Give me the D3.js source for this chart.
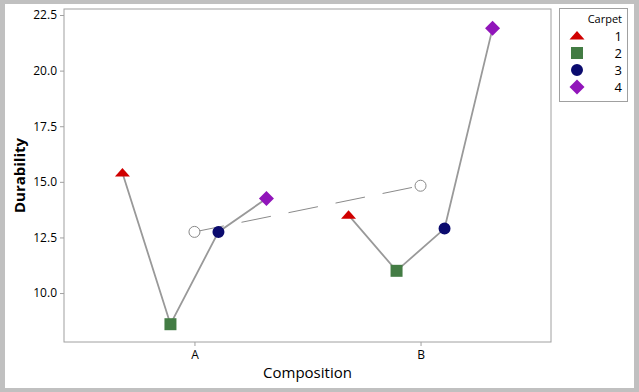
<!DOCTYPE html>
<html>
<head>
<meta charset="utf-8">
<script src="https://cdn.jsdelivr.net/npm/d3@7"></script>
<style>
  body { margin: 0; background: #c0c0c0; }
  svg { display: block; font-family: "Open Sans", "Noto Sans", sans-serif; }
</style>
</head>
<body>
<div class="main"></div>
<script>
const compositions = ["A", "B"];
const carpets = [1, 2, 3, 4];
const durabilityA = [15.4, 8.6, 12.75, 14.25];
const durabilityB = [13.5, 11.0, 12.9, 21.9];
const yTicks = [10.0, 12.5, 15.0, 17.5, 20.0, 22.5];
const colors = ["#d00000", "#437c44", "#0b0b6e", "#9115ba"];

const w = 639, h = 392;
const plotLeft = 64, plotRight = 551, plotTop = 9, plotBottom = 342;

const svg = d3.select(".main").append("svg")
  .attr("width", w)
  .attr("height", h);

svg.append("rect")
  .attr("x", 0).attr("y", 0).attr("width", w).attr("height", h)
  .attr("fill", "#c0c0c0");
svg.append("rect")
  .attr("x", 5).attr("y", 4).attr("width", 629).attr("height", 384)
  .attr("fill", "#fff");

const xScale = d3.scalePoint()
  .domain(compositions)
  .range([plotLeft, plotRight])
  .padding(0.577);

const offset = d3.scalePoint()
  .domain(carpets)
  .range([-72, 72]);

const yScale = d3.scaleLinear()
  .domain([7.8, 22.77])
  .range([plotBottom, plotTop]);

// shapes for each carpet
const shapes = [
  "M0,-5L7.5,3.5L-7.5,3.5Z",
  "M-6,-6H6V6H-6Z",
  d3.symbol(d3.symbolCircle, 113)(),
  "M0,-7.5L7.5,0L0,7.5L-7.5,0Z"
];

// frame
svg.append("rect")
  .attr("x", plotLeft).attr("y", plotTop)
  .attr("width", plotRight - plotLeft).attr("height", plotBottom - plotTop)
  .attr("fill", "#fff")
  .attr("stroke", "#a0a0a0");

const yAxis = d3.axisLeft(yScale)
  .tickValues(yTicks)
  .tickFormat(d3.format(".1f"))
  .tickSize(4)
  .tickPadding(3);
const gy = svg.append("g")
  .attr("transform", "translate(" + plotLeft + ",0)")
  .call(yAxis);

const xAxis = d3.axisBottom(xScale)
  .tickSize(4)
  .tickPadding(4);
const gx = svg.append("g")
  .attr("transform", "translate(0," + plotBottom + ")")
  .call(xAxis);

[gx, gy].forEach(g => {
  g.select(".domain").remove();
  g.selectAll(".tick line").attr("stroke", "#a0a0a0");
  g.selectAll(".tick text")
    .attr("fill", "#000")
    .style("font-size", "12px")
    .style("font-family", "'Open Sans', sans-serif");
});

const series = [durabilityA, durabilityB];

// mean line
const means = series.map(s => d3.mean(s));
svg.append("line")
  .attr("x1", xScale("A")).attr("y1", yScale(means[0]))
  .attr("x2", xScale("B")).attr("y2", yScale(means[1]))
  .attr("stroke", "#8a8a8a")
  .attr("stroke-width", 1)
  .attr("stroke-dasharray", "30,18");

// lines within each composition
const line = d3.line()
  .x(d => d.x)
  .y(d => d.y);

series.forEach((s, k) => {
  const pts = s.map((v, i) => ({
    x: xScale(compositions[k]) + offset(carpets[i]),
    y: yScale(v)
  }));
  svg.append("path")
    .attr("d", line(pts))
    .attr("fill", "none")
    .attr("stroke", "#999")
    .attr("stroke-width", 1.8);
});

// mean markers
svg.selectAll(".mean")
  .data(means)
  .enter()
  .append("circle")
  .attr("cx", (d, i) => xScale(compositions[i]))
  .attr("cy", d => yScale(d))
  .attr("r", 5.5)
  .attr("fill", "#fff")
  .attr("stroke", "#888");

// points
series.forEach((s, k) => {
  svg.selectAll(".pt" + k)
    .data(s)
    .enter()
    .append("path")
    .attr("d", (d, i) => shapes[i])
    .attr("fill", (d, i) => colors[i])
    .attr("transform", (d, i) =>
      "translate(" + (xScale(compositions[k]) + offset(carpets[i])) + "," + yScale(d) + ")");
});

// axis titles
svg.append("text")
  .attr("x", (plotLeft + plotRight) / 2)
  .attr("y", 378)
  .attr("text-anchor", "middle")
  .style("font-size", "15px")
  .text("Composition");

svg.append("text")
  .attr("transform", "translate(25," + ((plotTop + plotBottom) / 2) + ") rotate(-90)")
  .attr("text-anchor", "middle")
  .style("font-size", "15px")
  .style("font-weight", "bold")
  .text("Durability");

// legend
const lg = svg.append("g");
lg.append("rect")
  .attr("x", 559.5).attr("y", 8.5)
  .attr("width", 68).attr("height", 93)
  .attr("fill", "#fff")
  .attr("stroke", "#a0a0a0");
lg.append("text")
  .attr("x", 622).attr("y", 23)
  .attr("text-anchor", "end")
  .style("font-size", "11px")
  .text("Carpet");
carpets.forEach((c, i) => {
  const yy = 36 + i * 17;
  lg.append("path")
    .attr("d", shapes[i])
    .attr("fill", colors[i])
    .attr("transform", "translate(577," + yy + ")");
  lg.append("text")
    .attr("x", 622).attr("y", yy + 5)
    .attr("text-anchor", "end")
    .style("font-size", "13px")
    .text(c);
});
</script>
</body>
</html>
